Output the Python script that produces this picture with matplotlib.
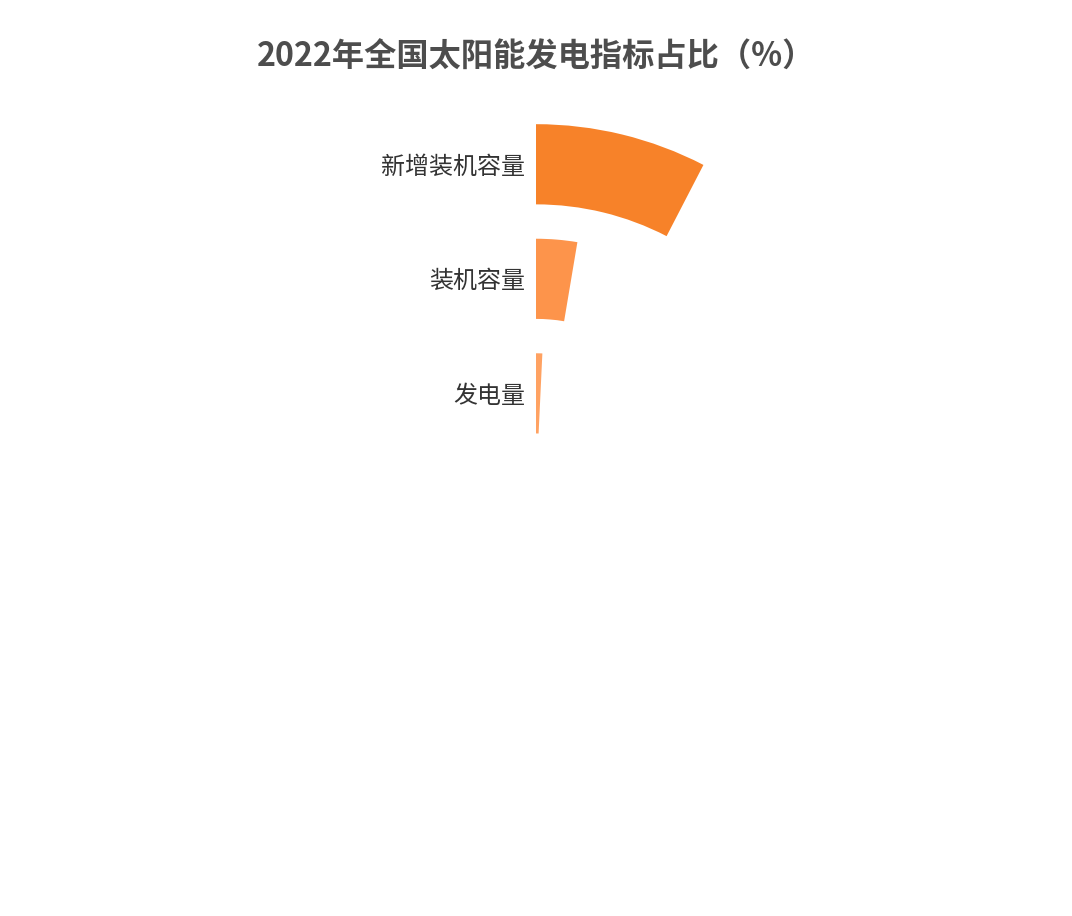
import numpy as np
import matplotlib
matplotlib.use("Agg")
import matplotlib.pyplot as plt
from matplotlib.transforms import offset_copy

plt.rcParams['font.family'] = ['Noto Sans CJK SC', 'DejaVu Sans']

# data (inner -> outer)
categories = ['发电量', '装机容量', '新增装机容量']
values = [0.75, 2.65, 7.6]  # share of full circle, %
colors = ['#FFA262', '#FD944B', '#F78229']
title = '2022年全国太阳能发电指标占比（%）'

W, H = 1072, 916
fig = plt.figure(figsize=(W / 100, H / 100), dpi=100)

# polar area: centre (536, 488.5) px, outer radius 381.5 px
cx, cy, R = 536, 488.5, 381.5
ax = fig.add_axes([(cx - R) / W, (H - cy - R) / H, 2 * R / W, 2 * R / H],
                  projection='polar')
ax.set_theta_zero_location('N')
ax.set_theta_direction(-1)
ax.set_ylim(0, len(categories))
ax.set_rorigin(-37.9 / 114.7)

bar_w = 0.7
theta = np.array(values) / 100 * 2 * np.pi
pos = np.arange(len(categories))
ax.bar(0, bar_w, width=theta, bottom=pos + (1 - bar_w) / 2,
       align='edge', color=colors, edgecolor='none')

lab_tr = offset_copy(ax.transData, fig=fig, x=-11, y=-2.5, units='dots')
for i, name in enumerate(categories):
    ax.text(0, i + 0.5, name, transform=lab_tr, ha='right', va='center',
            fontsize=17.3, color='#333333')

ax.axis('off')  # no grid, ticks or rings

fig.text(0.5, 1 - 57 / H, title, ha='center', va='center', fontsize=23.2,
         fontweight='bold', color='#4D4D4D')

fig.savefig('out.png', dpi=100)
